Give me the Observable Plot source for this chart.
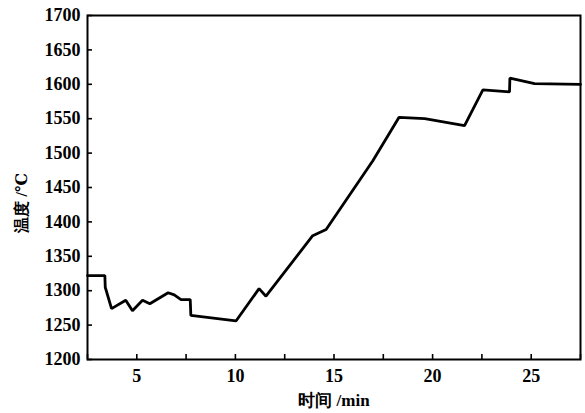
<!DOCTYPE html>
<html><head><meta charset="utf-8">
<script src="https://cdn.jsdelivr.net/npm/d3@7"></script>
<script src="https://cdn.jsdelivr.net/npm/@observablehq/plot@0.6"></script>
<style>
body{margin:0;background:#fff;}
svg text{font-family:"Liberation Serif","DejaVu Serif",serif;font-weight:bold;}
</style></head><body><div id="c"></div>
<script>
const timeMin = [2.5, 3.38, 3.4, 3.72, 4.44, 4.78, 5.29, 5.66, 6.59, 6.9, 7.24, 7.71, 7.74, 10.03, 11.2, 11.55, 13.92, 14.6, 16.97, 18.3, 19.6, 21.62, 22.55, 23.9, 23.92, 25.17, 27.5];
const tempC   = [1322, 1322, 1305, 1274, 1286, 1271, 1286, 1281, 1297, 1294, 1287, 1287, 1264, 1256, 1303, 1292, 1380, 1389, 1489, 1552, 1550, 1540, 1592, 1589, 1609, 1601, 1600];
const xTicksMinor = [2.5, 5, 7.5, 10, 12.5, 15, 17.5, 20, 22.5, 25, 27.5];
const xTickLabels = [5, 10, 15, 20, 25];
const yTicks = [1200, 1250, 1300, 1350, 1400, 1450, 1500, 1550, 1600, 1650, 1700];
const xLabel = "时间 /min";
const yLabel = "温度 /℃";

const data = timeMin.map((t, i) => ({t, v: tempC[i]}));

const W = 585, H = 413, mL = 87, mR = 5, mT = 15, mB = 54;
const plotW = W - mL - mR, plotH = H - mT - mB;
const tick = 5;

const chart = Plot.plot({
  width: W, height: H,
  marginLeft: mL, marginRight: mR, marginTop: mT, marginBottom: mB,
  x: {domain: [2.5, 27.5]},
  y: {domain: [1200, 1700]},
  style: {fontSize: "18px", color: "black", background: "white"},
  marks: [
    Plot.tickX(xTicksMinor, {x: d => d, insetTop: plotH - tick, stroke: "black", strokeWidth: 1.6}),
    Plot.tickY(yTicks, {y: d => d, insetRight: plotW - tick, stroke: "black", strokeWidth: 1.6}),
    Plot.axisX(xTickLabels, {tickSize: 0, tickPadding: 10, label: null, fontSize: 18, letterSpacing: 0.5}),
    Plot.axisY(yTicks, {tickSize: 0, tickPadding: 7, label: null, tickFormat: "d", fontSize: 18, letterSpacing: 0.5}),
    Plot.frame({stroke: "black", strokeWidth: 2}),
    Plot.line(data, {x: "t", y: "v", stroke: "black", strokeWidth: 2.8, strokeLinejoin: "miter"}),
    Plot.text([xLabel], {frameAnchor: "bottom", dy: 46, text: d => d, fontSize: 17, fontWeight: "bold", fontFamily: "'Noto Sans CJK SC', 'Liberation Serif', serif"}),
    Plot.text([yLabel], {frameAnchor: "left", dx: -66, dy: 45, rotate: -90, text: d => d, fontSize: 16, fontWeight: "bold", fontFamily: "'Noto Sans CJK SC', 'Liberation Serif', serif"})
  ]
});
document.getElementById("c").appendChild(chart);
</script></body></html>
